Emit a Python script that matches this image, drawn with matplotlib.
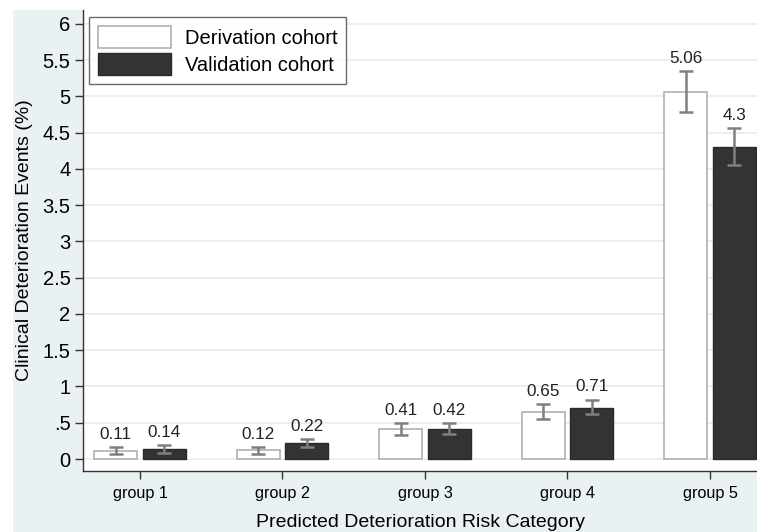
import matplotlib
matplotlib.use("Agg")
import matplotlib.pyplot as plt
from matplotlib.patches import Rectangle
import numpy as np

categories = ["group 1", "group 2", "group 3", "group 4", "group 5"]
derivation = [0.11, 0.12, 0.41, 0.65, 5.06]
deriv_lo = [0.07, 0.07, 0.33, 0.55, 4.78]
deriv_hi = [0.16, 0.17, 0.50, 0.76, 5.35]
validation = [0.14, 0.22, 0.42, 0.71, 4.30]
valid_lo = [0.09, 0.16, 0.35, 0.62, 4.05]
valid_hi = [0.19, 0.28, 0.50, 0.82, 4.56]
ytick_vals = [0, 0.5, 1, 1.5, 2, 2.5, 3, 3.5, 4, 4.5, 5, 5.5, 6]
ytick_labels = ["0", ".5", "1", "1.5", "2", "2.5", "3", "3.5", "4", "4.5", "5", "5.5", "6"]

plt.rcParams['font.family'] = ['Liberation Sans', 'DejaVu Sans']

W, H = 757, 532
fig = plt.figure(figsize=(W / 100, H / 100), dpi=100)
fig.patch.set_facecolor("white")
fig.patches.append(Rectangle((13 / W, 0), 1 - 13 / W, 522 / H, transform=fig.transFigure,
                             facecolor="#eaf1f3", edgecolor="none", zorder=0))

ax = fig.add_axes([83 / W, 61 / H, (W - 83) / W, 461 / H])
ax.set_facecolor("white")
ax.set_zorder(1)

x = np.arange(1, len(categories) + 1)
bw = 0.30
off = 0.17
xd = x - off
xv = x + off

ax.bar(xd, derivation, width=bw, color="white", edgecolor="#b0b0b0", linewidth=1.2, zorder=3,
       label="Derivation cohort")
ax.bar(xv, validation, width=bw, color="#333333", edgecolor="#2a2a2a", linewidth=1.0, zorder=3,
       label="Validation cohort")

ed = [np.array(derivation) - np.array(deriv_lo), np.array(deriv_hi) - np.array(derivation)]
ev = [np.array(validation) - np.array(valid_lo), np.array(valid_hi) - np.array(validation)]
ax.errorbar(xd, derivation, yerr=ed, fmt="none", ecolor="#7f7f7f", elinewidth=1.8, capsize=5,
            capthick=1.8, zorder=4)
ax.errorbar(xv, validation, yerr=ev, fmt="none", ecolor="#7f7f7f", elinewidth=1.8, capsize=5,
            capthick=1.8, zorder=4)

for xi, v, hi in zip(xd, derivation, deriv_hi):
    ax.text(xi, hi + 0.07, f"{v:g}", ha="center", va="bottom", fontsize=12.3, color="#222222", zorder=5)
for xi, v, hi in zip(xv, validation, valid_hi):
    ax.text(xi, hi + 0.07, f"{v:g}", ha="center", va="bottom", fontsize=12.3, color="#222222", zorder=5)

ax.set_xlim(0.6, 5.33)
ax.set_ylim(-0.165, 6.19)
ax.set_yticks(ytick_vals)
ax.set_yticklabels(ytick_labels, fontsize=14.5)
ax.set_xticks(x)
ax.set_xticklabels(categories, fontsize=11.7)
ax.yaxis.grid(True, color="#e3edf0", linewidth=1.2, zorder=0)
ax.set_axisbelow(True)

for s in ["top", "right"]:
    ax.spines[s].set_visible(False)
for s in ["left", "bottom"]:
    ax.spines[s].set_color("#333333")
    ax.spines[s].set_linewidth(1.0)
ax.tick_params(axis="both", direction="out", length=6, width=1, color="#333333", pad=3)
ax.tick_params(axis="x", pad=5)

ax.set_ylabel("Clinical Deterioration Events (%)", fontsize=14, labelpad=7)
ax.set_xlabel("Predicted Deterioration Risk Category", fontsize=14, labelpad=9)

leg = ax.legend(loc="upper left", bbox_to_anchor=(6 / (W - 83), 1 - 7 / 461), fontsize=14.5,
                frameon=True, fancybox=False, edgecolor="#444444", handlelength=3.6,
                handleheight=1.3, borderpad=0.45, labelspacing=0.25, handletextpad=0.7,
                borderaxespad=0)
leg.get_frame().set_linewidth(1.0)

fig.savefig("out.png", dpi=100, facecolor=fig.get_facecolor())
